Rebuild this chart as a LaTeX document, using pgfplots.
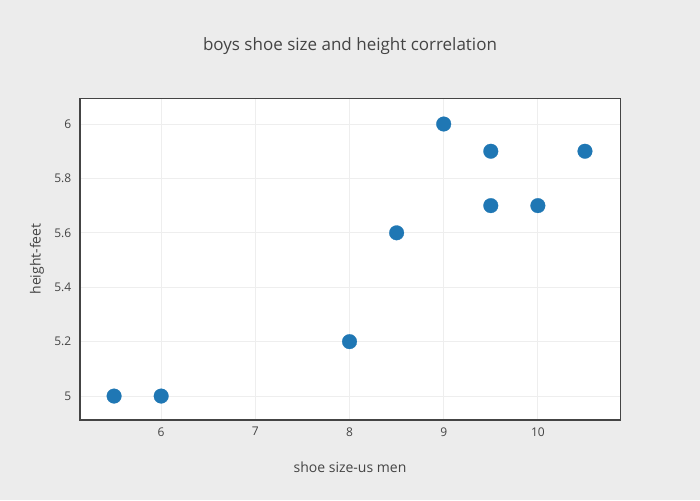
\documentclass[border=0pt]{standalone}
\usepackage{pgfplots}
\pgfplotsset{compat=1.18}
\usepackage{fontspec}
\setmainfont{Open Sans}
\definecolor{bg}{HTML}{ECECEC}
\definecolor{txt}{HTML}{444444}
\definecolor{grd}{HTML}{EEEEEE}
\definecolor{pt}{HTML}{1F77B4}
\begin{document}
\begin{tikzpicture}
\fill[bg] (-60pt,-60pt) rectangle (465pt,315pt);
\begin{axis}[
  at={(0,0)}, anchor=south west,
  scale only axis, width=405pt, height=240.75pt,
  xmin=5.138, xmax=10.872, ymin=4.912, ymax=6.092,
  xtick={6,7,8,9,10}, ytick={5,5.2,5.4,5.6,5.8,6},
  yticklabels={5,5.2,5.4,5.6,5.8,6},
  xticklabels={6,7,8,9,10},
  /pgf/number format/assume math mode=true,
  major tick length=0pt,
  grid=major, grid style={grd, line width=0.75pt},
  axis line style={txt, line width=0.75pt},
  axis background/.style={fill=white},
  tick label style={font=\fontsize{9}{10}\selectfont, text=txt},
  xticklabel style={yshift=-2pt},
  yticklabel style={xshift=-3pt},
]
\addplot[color=pt, only marks, mark=*, mark size=5.5pt, mark options={fill=pt, draw=pt, line width=0.2pt}] coordinates {
(5.5,5) (6,5) (8,5.2) (8.5,5.6) (9,6) (9.5,5.9) (9.5,5.7) (10,5.7) (10.5,5.9)
};
\end{axis}
\node[text=txt, font=\fontsize{12.75}{14}\selectfont] at (202.5pt,280.5pt) {boys shoe size and height correlation};
\node[text=txt, font=\fontsize{10.5}{12}\selectfont] at (202.5pt,-35.25pt) {shoe size-us men};
\node[text=txt, font=\fontsize{10.5}{12}\selectfont, rotate=90] at (-32.25pt,120.75pt) {height-feet};
\end{tikzpicture}
\end{document}
